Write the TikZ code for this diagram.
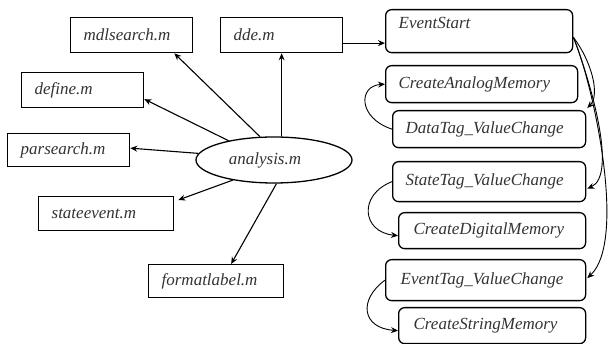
\documentclass[tikz,border=0pt]{standalone}
\usepackage{fontspec}
\setmainfont{Liberation Serif}
\usetikzlibrary{arrows.meta,calc,shapes.geometric}
\begin{document}
\begin{tikzpicture}[x=1pt,y=-1pt,
  font=\fontsize{17}{20}\selectfont\itshape,
  box/.style={draw, line width=1.3pt, anchor=north west, inner xsep=13pt, inner ysep=0pt, align=left, text=black!80},
  rbox/.style={box, rounded corners=6pt},
  arr/.style={line width=1.1pt, -{Stealth[length=7pt,width=6pt]}},
  carr/.style={line width=0.9pt, -{Stealth[length=7pt,width=6pt]}}]
\useasboundingbox (0,0) rectangle (611,344);
% left boxes
\node[box, minimum height=35pt, text width=96pt] (mds) at (70,17) {mdlsearch.m};
\node[box, minimum height=35pt, text width=96pt] (dde) at (220,17) {dde.m};
\node[box, minimum height=35pt, text width=96pt] (def) at (21,72) {define.m};
\node[box, minimum height=33pt, text width=96pt] (ps) at (7,133) {parsearch.m};
\node[box, minimum height=34pt, text width=109pt] (se) at (38,196) {stateevent.m};
\node[box, minimum height=33pt, text width=109pt] (fl) at (148,264) {formatlabel.m};
\node[draw, ellipse, line width=1.3pt, minimum width=156pt, minimum height=46pt, inner sep=0pt, text=black!80] (an) at (274,160) {analysis.m\hspace*{18pt}};
% right boxes
\node[rbox, minimum height=43pt, text width=161pt] (evs) at (385,9) {EventStart\\[-4pt]\mbox{}};
\node[rbox, minimum height=37pt, text width=166pt] (cam) at (385,65) {CreateAnalogMemory};
\node[rbox, minimum height=37pt, text width=167pt] (dtag) at (392,110) {DataTag\_ValueChange};
\node[rbox, minimum height=40pt, text width=167pt] (stag) at (392,161) {StateTag\_ValueChange};
\node[rbox, minimum height=36pt, text width=157pt, inner xsep=15pt] (cdm) at (398,212) {CreateDigitalMemory};
\node[rbox, minimum height=41pt, text width=170pt, inner xsep=15pt] (etag) at (385,259) {EventTag\_ValueChange};
\node[rbox, minimum height=36pt, text width=157pt, inner xsep=15pt] (csm) at (398,307) {CreateStringMemory};
% arrows from analysis.m
\draw[arr] (dde.south |- an.north) -- (dde.south);
\draw[arr] (an.121) -- ($(mds.south east)+(-19,0)$);
\draw[arr] (an.157) -- ($(def.east)+(0,9)$);
\draw[arr] (an.175) -- ($(ps.east)+(0,-2)$);
\draw[arr] (an.206) -- ($(se.north east)+(4,4)$);
\draw[arr] (an.-84) -- ($(fl.north)+(15,0)$);
\draw[arr] ($(dde.east)+(0,8)$) -- ($(evs.west)+(0,12)$);
% right-side curves
\draw[carr] ($(evs.east)+(0,6)$) .. controls (592,62) and (600,95) .. ($(dtag.north east)+(1,-2)$);
\draw[carr] ($(evs.east)+(0,6)$) .. controls (590,80) and (618,175) .. ($(stag.east)+(1,7)$);
\draw[carr] ($(evs.east)+(0,6)$) .. controls (592,80) and (628,240) .. ($(etag.east)+(1,-2)$);
% left-side curves
\draw[carr] (dtag.west) .. controls (358,118) and (358,86) .. (cam.west);
\draw[carr] (stag.west) .. controls (358,195) and (362,232) .. ($(cdm.west)+(0,5)$);
\draw[carr] (etag.west) .. controls (358,300) and (362,328) .. ($(csm.west)+(0,5)$);
\end{tikzpicture}
\end{document}
